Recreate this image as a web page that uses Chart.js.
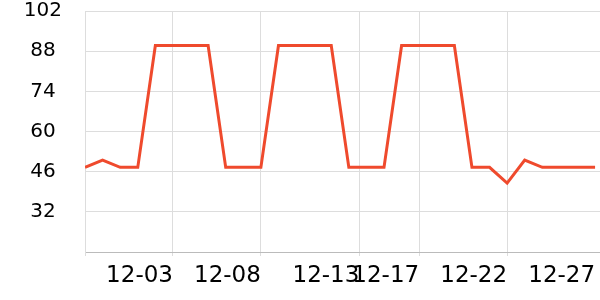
<!DOCTYPE html>
<html>
<head>
<meta charset="utf-8">
<script src="https://cdn.jsdelivr.net/npm/chart.js@4/dist/chart.umd.min.js"></script>
<style>
  html, body { margin: 0; padding: 0; background: #fff; }
  #wrap { width: 600px; height: 300px; position: relative; }
</style>
</head>
<body>
<div id="wrap"><canvas id="chart"></canvas></div>
<script>
// one value per day, 30 days
var values = [47.5, 50, 47.5, 47.5, 90, 90, 90, 90, 47.5, 47.5,
              47.5, 90, 90, 90, 90, 47.5, 47.5, 47.5, 90, 90,
              90, 90, 47.5, 47.5, 42, 50, 47.5, 47.5, 47.5, 47.5];
// x axis ticks (day index) and their labels
var tickAt = [0, 5, 10, 15.6, 19, 24, 29];
var tickLabels = ["", "12-03", "12-08", "12-13", "12-17", "12-22", "12-27"];
// y axis
var yMin = 18;
var yMax = 102;
var yStep = 14;

var lineColor = "#ef4a2d";
var gridColor = "#dddddd";

var points = [];
for (var i = 0; i < values.length; i++) {
    points.push({ x: i, y: values[i] });
}

new Chart(document.getElementById("chart"), {
    type: "line",
    data: {
        datasets: [{
            data: points,
            borderColor: lineColor,
            borderWidth: 3,
            pointRadius: 0,
            tension: 0,
            fill: false
        }]
    },
    options: {
        responsive: true,
        maintainAspectRatio: false,
        animation: false,
        layout: { padding: 0 },
        plugins: {
            legend: { display: false },
            tooltip: { enabled: false }
        },
        scales: {
            x: {
                type: "linear",
                min: 0,
                max: 29.28,
                afterBuildTicks: function(scale) {
                    scale.ticks = tickAt.map(function(v) { return { value: v }; });
                },
                afterFit: function(scale) {
                    scale.height = 48;
                    scale.paddingLeft = 0;
                    scale.paddingRight = 0;
                },
                grid: {
                    tickLength: 4,
                    // no line for the last tick, it sits on the right edge
                    color: function(ctx) {
                        return ctx.index === tickAt.length - 1 ? "rgba(0,0,0,0)" : gridColor;
                    }
                },
                border: { color: "#bbbbbb" },
                ticks: {
                    autoSkip: false,
                    maxRotation: 0,
                    align: "end",
                    padding: 6,
                    color: "#000",
                    font: { family: "DejaVu Sans", size: 23 },
                    callback: function(value, index) {
                        return tickLabels[index];
                    }
                }
            },
            y: {
                min: yMin,
                max: yMax,
                afterFit: function(scale) {
                    scale.width = 85;
                    scale.paddingTop = 11;
                    scale.paddingBottom = 0;
                },
                grid: { color: gridColor, drawTicks: false },
                border: { color: gridColor },
                ticks: {
                    stepSize: yStep,
                    crossAlign: "center",
                    padding: 23,
                    color: "#000",
                    font: { family: "DejaVu Sans", size: 20 },
                    callback: function(value) {
                        return value === yMin ? "" : value;
                    }
                }
            }
        }
    }
});
</script>
</body>
</html>
